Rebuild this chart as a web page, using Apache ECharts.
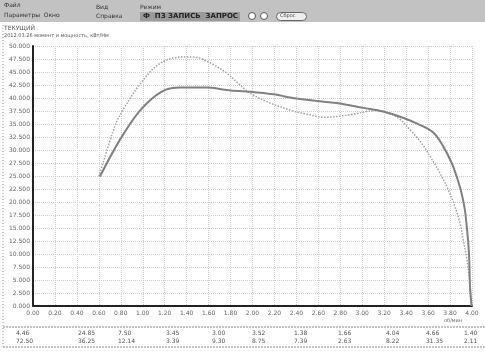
<!DOCTYPE html>
<html>
<head>
<meta charset="utf-8">
<script src="https://cdn.jsdelivr.net/npm/echarts@6/dist/echarts.min.js"></script>
<style>
html,body{margin:0;padding:0;background:#fff;}
#chart{width:485px;height:352px;}
</style>
</head>
<body>
<div id="chart"></div>
<script>
// Speed axis (rpm) and value axis settings
var xMin = 0, xMax = 4000, xStep = 200;
var yMin = 0, yMax = 50, yStep = 2.5;

// Measured curve: [rpm, value]
var curveMain = [
  [610, 24.9], [790, 31.9], [980, 37.7], [1170, 41.2], [1340, 42.0], [1580, 42.0],
  [1780, 41.5], [1980, 41.2], [2190, 40.7], [2400, 39.9], [2650, 39.3], [2780, 39.0],
  [3010, 38.1], [3190, 37.4], [3370, 36.2], [3530, 34.8], [3650, 33.3], [3740, 30.6],
  [3815, 27.5], [3860, 24.9], [3905, 21.7], [3935, 18.5], [3952, 15.3], [3966, 12.1],
  [3975, 8.9], [3982, 3.7], [3997, 0]
];

// Reference curve: [rpm, value]
var curveRef = [
  [600, 24.9], [750, 34.8], [820, 37.7], [980, 42.8], [1160, 46.7], [1370, 47.9],
  [1490, 47.8], [1610, 46.8], [1765, 44.8], [1855, 43.1], [1980, 40.9], [2130, 39.3],
  [2340, 37.7], [2490, 36.9], [2660, 36.3], [2890, 36.8], [3130, 37.6], [3310, 36.4],
  [3435, 33.9], [3540, 31.3], [3620, 28.7], [3710, 25.5], [3785, 22.3], [3845, 19.1],
  [3890, 16.0], [3920, 12.7], [3950, 9.5], [3975, 5.6], [3988, 1.2], [3995, 0]
];

// Summary table under the chart
var tableTop = ['4.46', '24.85', '7.50', '3.45', '3.00', '3.52', '1.38', '1.66', '4.04', '4.66', '1.40'];
var tableBottom = ['72.50', '36.25', '12.14', '3.39', '9.30', '8.75', '7.39', '2.63', '8.22', '31.35', '2.11'];
var tableX = [30, 92, 132, 180, 226, 266, 308, 352, 400, 440, 478];

var chart = echarts.init(document.getElementById('chart'), null, {renderer: 'canvas'});

var tableGraphics = [];
for (var i = 0; i < tableTop.length; i++) {
  tableGraphics.push({type: 'text', left: tableX[i] - 14, top: 329,
    style: {text: tableTop[i] + '\n' + tableBottom[i], fill: '#555', font: '6px "DejaVu Sans"', lineHeight: 8}});
}

var option = {
  animation: false,
  backgroundColor: '#fff',
  grid: {left: 33, right: 13, top: 46, bottom: 46},
  xAxis: {
    type: 'value', min: xMin, max: xMax, interval: xStep,
    axisLine: {lineStyle: {color: '#222', width: 2}},
    axisTick: {show: false},
    axisLabel: {color: '#666', fontSize: 6, fontFamily: 'DejaVu Sans', margin: 4,
      formatter: function (v) { return (v / 1000).toFixed(2); }},
    splitLine: {show: true, lineStyle: {color: '#cfcfcf', type: 'dotted', width: 1}}
  },
  yAxis: {
    type: 'value', min: yMin, max: yMax, interval: yStep,
    axisLine: {show: true, lineStyle: {color: '#222', width: 2}},
    axisTick: {show: false},
    axisLabel: {color: '#666', fontSize: 6, fontFamily: 'DejaVu Sans', margin: 3,
      formatter: function (v) { return v.toFixed(3); }},
    splitLine: {show: true, lineStyle: {color: '#cfcfcf', type: 'dotted', width: 1}}
  },
  series: [
    {type: 'line', data: curveRef, smooth: 0.35, symbol: 'none',
      lineStyle: {color: '#a0a0a0', width: 1.5, type: 'dotted'}},
    {type: 'line', data: curveMain, smooth: 0.35, symbol: 'none',
      lineStyle: {color: '#808080', width: 2}}
  ],
  graphic: [
    // toolbar band
    {type: 'rect', left: 0, top: 0, shape: {width: 485, height: 22}, style: {fill: '#c2c2c2'}},
    {type: 'text', left: 4, top: 2, style: {text: 'Файл', fill: '#333', font: '6px "DejaVu Sans"'}},
    {type: 'text', left: 4, top: 12, style: {text: 'Параметры  Окно', fill: '#333', font: '6px "DejaVu Sans"'}},
    {type: 'text', left: 96, top: 4, style: {text: 'Вид', fill: '#333', font: '6px "DejaVu Sans"'}},
    {type: 'text', left: 96, top: 13, style: {text: 'Справка', fill: '#333', font: '6px "DejaVu Sans"'}},
    {type: 'text', left: 140, top: 4, style: {text: 'Режим', fill: '#333', font: '6px "DejaVu Sans"'}},
    {type: 'rect', left: 140, top: 12, shape: {width: 100, height: 9}, style: {fill: '#9a9a9a'}},
    {type: 'text', left: 143, top: 13, style: {text: 'Ф  ПЗ ЗАПИСЬ  ЗАПРОС', fill: '#222', font: 'bold 7px "DejaVu Sans"'}},
    {type: 'circle', shape: {cx: 252, cy: 16, r: 3.5}, style: {fill: '#fff', stroke: '#555'}},
    {type: 'circle', shape: {cx: 264, cy: 16, r: 3.5}, style: {fill: '#fff', stroke: '#555'}},
    {type: 'rect', left: 276, top: 12, shape: {width: 30, height: 8, r: 4}, style: {fill: '#eee', stroke: '#666'}},
    {type: 'text', left: 280, top: 13, style: {text: 'Сброс', fill: '#444', font: '5px "DejaVu Sans"'}},
    // titles
    {type: 'text', left: 4, top: 25, style: {text: 'ТЕКУЩИЙ', fill: '#555', font: '6px "DejaVu Sans"'}},
    {type: 'text', left: 4, top: 33, style: {text: '2012.03.26 момент и мощность, кВт/Нм', fill: '#555', font: '5px "DejaVu Sans"'}},
    // panel borders
    {type: 'line', shape: {x1: 3, y1: 25, x2: 3, y2: 348}, style: {stroke: '#999', lineDash: [1, 2]}},
    {type: 'line', shape: {x1: 3, y1: 327, x2: 485, y2: 327}, style: {stroke: '#888', lineDash: [2, 1]}},
    {type: 'line', shape: {x1: 3, y1: 347, x2: 485, y2: 347}, style: {stroke: '#888', lineDash: [2, 1]}},
    {type: 'text', left: 444, top: 318, style: {text: 'об/мин', fill: '#666', font: '5px "DejaVu Sans"'}}
  ].concat(tableGraphics)
};
chart.setOption(option);
</script>
</body>
</html>
